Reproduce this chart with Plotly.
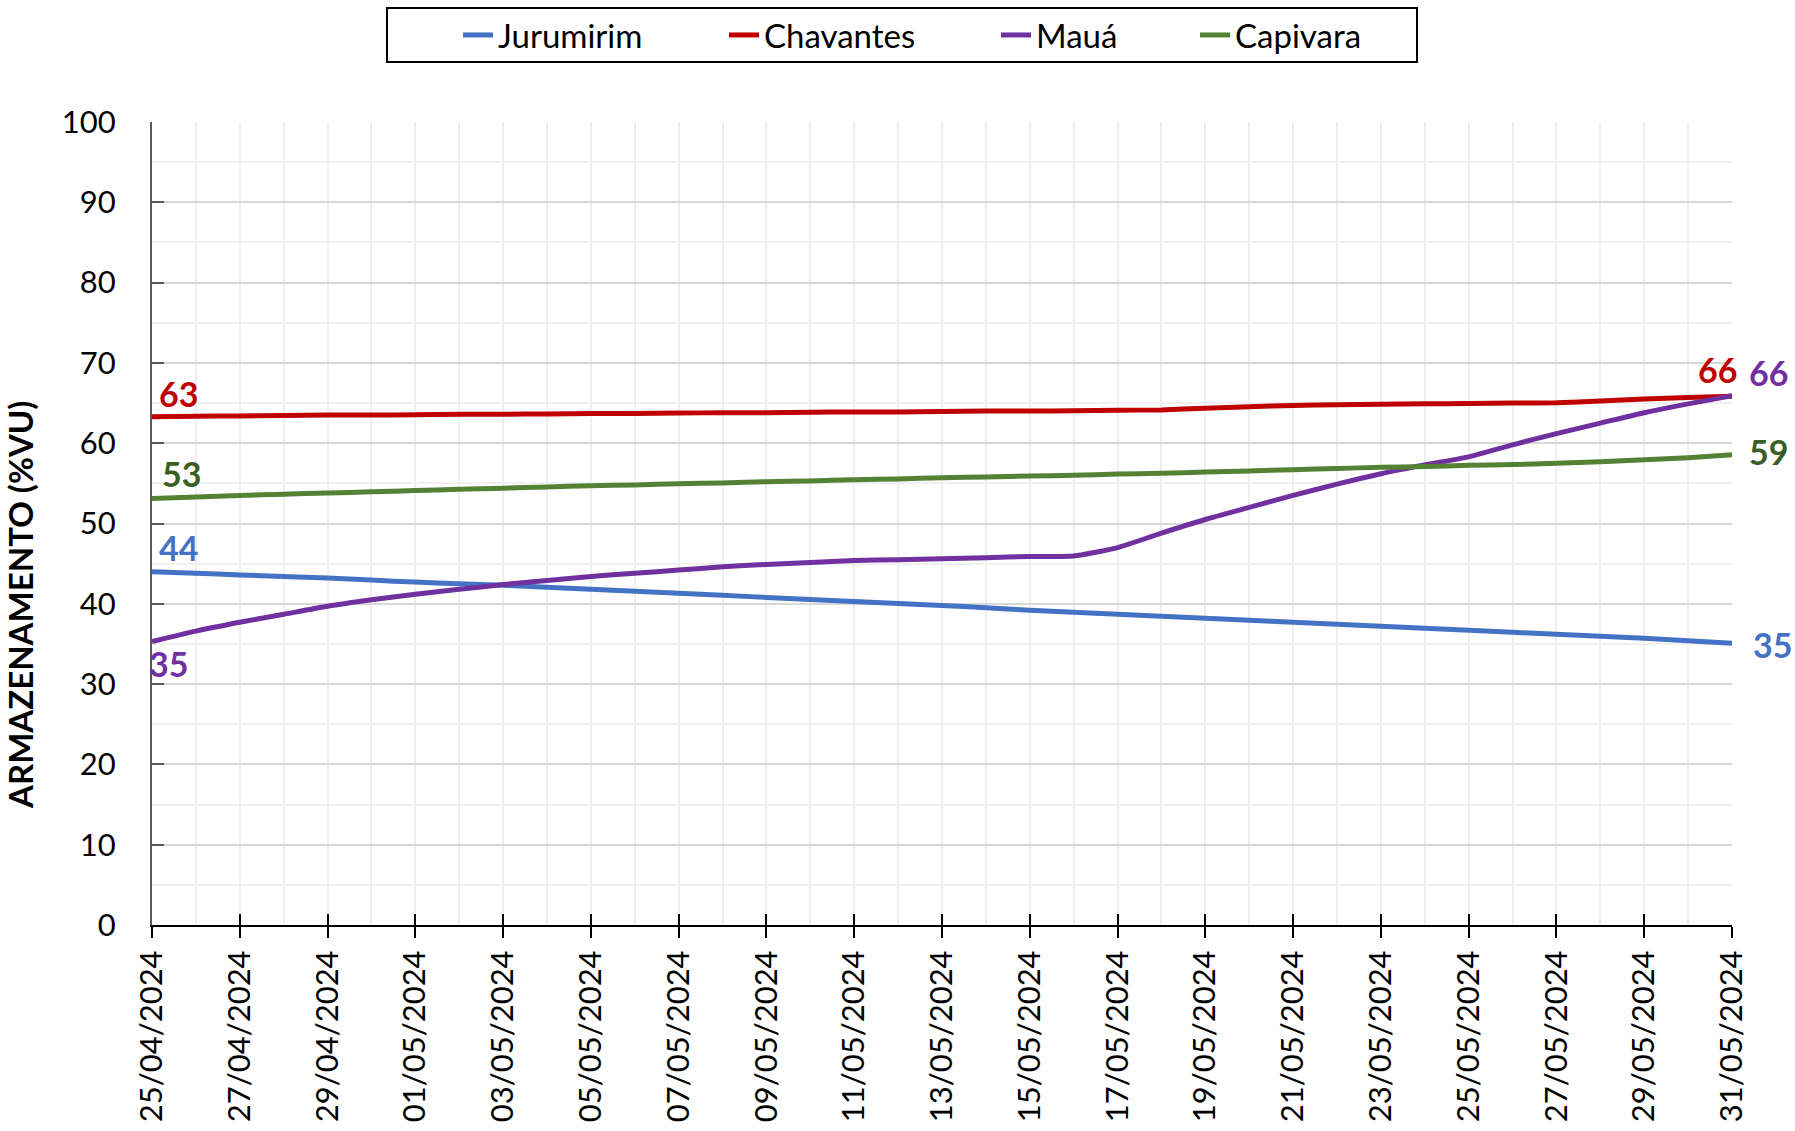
import math
import plotly.graph_objects as go

dates = [
    "2024-04-25", "2024-04-26", "2024-04-27", "2024-04-28", "2024-04-29", "2024-04-30",
    "2024-05-01", "2024-05-02", "2024-05-03", "2024-05-04", "2024-05-05", "2024-05-06",
    "2024-05-07", "2024-05-08", "2024-05-09", "2024-05-10", "2024-05-11", "2024-05-12",
    "2024-05-13", "2024-05-14", "2024-05-15", "2024-05-16", "2024-05-17", "2024-05-18",
    "2024-05-19", "2024-05-20", "2024-05-21", "2024-05-22", "2024-05-23", "2024-05-24",
    "2024-05-25", "2024-05-26", "2024-05-27", "2024-05-28", "2024-05-29", "2024-05-30",
    "2024-05-31",
]

jurumirim = [44.0, 43.8, 43.6, 43.4, 43.2, 42.95, 42.7, 42.5, 42.3, 42.05, 41.8, 41.55,
             41.3, 41.05, 40.8, 40.55, 40.3, 40.05, 39.8, 39.5, 39.2, 38.95, 38.7, 38.45,
             38.2, 37.95, 37.7, 37.45, 37.2, 36.95, 36.7, 36.45, 36.2, 35.95, 35.7, 35.4,
             35.1]
chavantes = [63.3, 63.35, 63.4, 63.45, 63.5, 63.5, 63.55, 63.6, 63.6, 63.65, 63.7, 63.7,
             63.75, 63.8, 63.8, 63.85, 63.9, 63.9, 63.95, 64.0, 64.0, 64.05, 64.1, 64.15,
             64.35, 64.55, 64.7, 64.8, 64.85, 64.9, 64.95, 65.0, 65.05, 65.25, 65.5, 65.7,
             65.85]
maua = [35.3, 36.6, 37.7, 38.7, 39.7, 40.5, 41.2, 41.8, 42.4, 42.9, 43.4, 43.8,
        44.2, 44.6, 44.9, 45.15, 45.4, 45.5, 45.6, 45.75, 45.9, 45.95, 47.0, 48.8,
        50.5, 52.0, 53.5, 54.9, 56.2, 57.3, 58.3, 59.8, 61.2, 62.5, 63.8, 64.9,
        65.9]
capivara = [53.1, 53.3, 53.5, 53.65, 53.8, 53.95, 54.1, 54.25, 54.4, 54.55, 54.7, 54.8,
            54.95, 55.05, 55.2, 55.3, 55.45, 55.55, 55.7, 55.8, 55.9, 56.0, 56.15, 56.25,
            56.4, 56.55, 56.7, 56.85, 57.0, 57.1, 57.25, 57.35, 57.5, 57.7, 57.95, 58.2,
            58.55]

series_names = ["Jurumirim", "Chavantes", "Mauá", "Capivara"]
series_values = [jurumirim, chavantes, maua, capivara]
line_colors = ["#4472C4", "#C00000", "#7030A0", "#548235"]
label_colors = ["#4472C4", "#C00000", "#7030A0", "#3B5E24"]
y_title = "ARMAZENAMENTO (%VU)"

# label offsets in px: (start xshift, start yshift, end xshift, end yshift)
label_offsets = [
    (26, 24, 40, -1),
    (26, 23, -15, 27),
    (16, -22, 36, 23),
    (29, 25, 36, 3),
]
legend_text_left_px = [500, 766, 1038, 1237]

W, H = 1795, 1131
L, R, T, B = 152, 63, 122, 206
PW = W - L - R
PH = H - T - B

FONT = "Lato"
DAY = 86400000

fig = go.Figure()
legend_keys = ["legend", "legend2", "legend3", "legend4"]
for i, (name, vals) in enumerate(zip(series_names, series_values)):
    fig.add_trace(go.Scatter(
        x=dates, y=vals, name=name, mode="lines",
        line=dict(color=line_colors[i], width=5, shape="spline", smoothing=0.6),
        legend=legend_keys[i],
    ))

# empty trace carrying the second x axis (used for the inner half of the cross ticks)
fig.add_trace(go.Scatter(x=[dates[0], dates[-1]], y=[None, None], xaxis="x2",
                         showlegend=False, hoverinfo="skip"))

annotations = []
for i, vals in enumerate(series_values):
    sx, sy, ex, ey = label_offsets[i]
    for (xv, yv, dx, dy) in [(dates[0], vals[0], sx, sy), (dates[-1], vals[-1], ex, ey)]:
        annotations.append(dict(
            x=xv, y=yv, xref="x", yref="y", text=str(int(math.floor(yv + 0.5))),
            showarrow=False, xanchor="center", yanchor="middle",
            xshift=dx, yshift=dy,
            font=dict(family=FONT, size=34, color=label_colors[i], weight="bold"),
        ))

annotations.append(dict(
    x=(20 - L) / PW, y=(H - B - 605) / PH, xref="paper", yref="paper",
    text=y_title, textangle=-90, showarrow=False, xanchor="center", yanchor="middle",
    font=dict(family=FONT, size=33, color="#000000", weight="bold"),
))

layout_legends = {}
for i, key in enumerate(legend_keys):
    layout_legends[key] = dict(
        x=(legend_text_left_px[i] - 42 - L) / PW, xanchor="left",
        y=(H - B - 35) / PH, yanchor="middle",
        orientation="h", bgcolor="rgba(0,0,0,0)", borderwidth=0,
        font=dict(family=FONT, size=33, color="#000000"),
    )

fig.update_layout(
    width=W, height=H,
    margin=dict(l=L, r=R, t=T, b=B, autoexpand=False),
    paper_bgcolor="white", plot_bgcolor="white",
    showlegend=True,
    annotations=annotations,
    shapes=[dict(type="rect", xref="paper", yref="paper",
                 x0=(387 - L) / PW, x1=(1417 - L) / PW,
                 y0=(H - B - 62) / PH, y1=(H - B - 8) / PH,
                 line=dict(color="#000000", width=2), fillcolor="rgba(0,0,0,0)")],
    xaxis=dict(
        type="date", range=[dates[0], dates[-1]],
        tick0=dates[0], dtick=2 * DAY, tickformat="%d/%m/%Y", tickangle=-90,
        ticks="outside", ticklen=11, tickwidth=2, tickcolor="#000000",
        showline=True, linecolor="#000000", linewidth=2,
        showgrid=True, gridcolor="#EFEFEF", gridwidth=2,
        minor=dict(dtick=DAY, tick0=dates[0], showgrid=True, gridcolor="#EFEFEF", gridwidth=2),
        tickfont=dict(family=FONT, size=31, color="#000000"),
        ticklabelstandoff=0,
        zeroline=False,
    ),
    xaxis2=dict(
        type="date", range=[dates[0], dates[-1]], overlaying="x", anchor="y", side="bottom",
        tick0=dates[0], dtick=2 * DAY, ticks="inside", ticklen=11, tickwidth=2,
        tickcolor="#000000", showticklabels=False, showgrid=False, showline=False,
        zeroline=False,
    ),
    yaxis=dict(
        range=[0, 100], dtick=10, tick0=0,
        ticks="inside", ticklen=12, tickwidth=2, tickcolor="#595959",
        showline=True, linecolor="#595959", linewidth=2,
        showgrid=True, gridcolor="#D9D9D9", gridwidth=2,
        minor=dict(dtick=5, showgrid=True, gridcolor="#F0F0F0", gridwidth=2),
        tickfont=dict(family=FONT, size=31, color="#000000"),
        ticklabelstandoff=28,
        zeroline=False,
    ),
    **layout_legends,
)

fig.write_html(
    "out.html",
    config={"displayModeBar": False},
    post_script="document.body.style.margin='0';document.body.style.overflow='hidden';",
)
